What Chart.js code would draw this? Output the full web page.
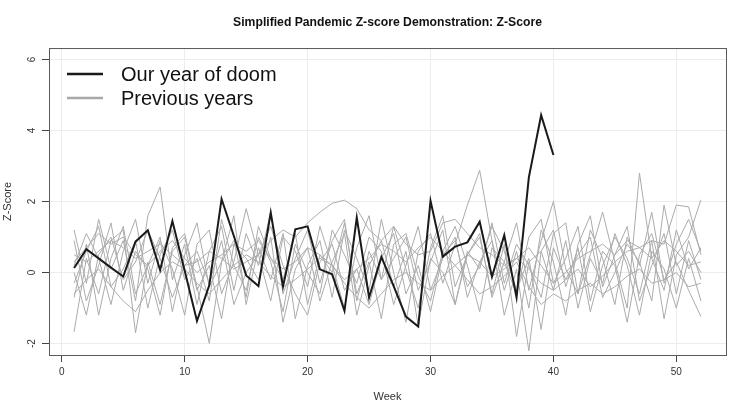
<!DOCTYPE html>
<html>
<head>
<meta charset="utf-8">
<script src="https://cdn.jsdelivr.net/npm/chart.js@4/dist/chart.umd.min.js"></script>
<style>
  html, body { margin: 0; padding: 0; background: #fff; }
  canvas { display: block; }
</style>
</head>
<body>
<canvas id="chart" width="750" height="417"></canvas>
<script>
const FONT = "'Liberation Sans', Arial, Helvetica, sans-serif";

const weeks = Array.from({ length: 52 }, (_, i) => i + 1);
const xTicks = [0, 10, 20, 30, 40, 50];
const yTicks = [-2, 0, 2, 4, 6];

// this year, weeks 1..40
const doomYear = [
  0.13, 0.66, 0.40, 0.14, -0.11, 0.87, 1.19, 0.07, 1.45, 0.05,
  -1.36, -0.36, 2.07, 1.03, -0.08, -0.38, 1.69, -0.39, 1.22, 1.30,
  0.09, -0.05, -1.08, 1.55, -0.70, 0.44, -0.38, -1.24, -1.52, 2.02,
  0.45, 0.73, 0.85, 1.43, -0.12, 1.05, -0.70, 2.68, 4.43, 3.31
];

// previous years, weeks 1..52 (rough)
const prev1 = [1.2, -0.3, 1.5, 0.1, 0.9, -0.8, 1.6, 2.41, -0.2, 0.8, -0.9, 0.6, 1.3, -0.5, 1.1, 0.2, 1.7, -0.6, 0.4, 1.2, -0.3, 0.9, 1.5, -0.8, 0.6, -0.2, 1.3, 0.1, -1.0, 0.7, 1.6, -0.4, 0.5, 1.1, -0.7, 0.3, 1.4, -0.5, 0.9, 2.0, 0.1, -0.6, 1.2, 0.4, -0.9, 1.0, 0.2, 1.7, -0.3, 0.8, 1.5, 0.6];
const prev2 = [0.5, 0.3, 0.6, 0.9, 0.7, 0.4, 0.6, 0.8, 0.5, 0.2, 0.3, 0.6, 0.4, 0.1, 0.3, 0.5, 0.9, 1.2, 1.0, 1.4, 1.7, 1.95, 2.04, 1.8, 1.2, 0.9, 1.3, 0.8, 0.5, 0.6, 1.4, 1.5, 1.1, 0.7, 0.5, 0.2, 0.4, 0.1, -0.3, -0.5, -0.2, 0.1, -0.4, -0.1, 0.3, 0.6, 0.7, 0.9, 0.8, 1.9, 1.85, 0.5];
const prev3 = [-0.7, 0.8, -1.2, 0.4, 1.3, -0.6, 0.2, 1.0, -1.1, 0.5, 1.4, -0.4, 0.3, 1.6, -0.9, 0.7, -0.2, 1.1, -1.3, 0.2, 0.9, -0.7, 1.2, 0.4, -0.5, 1.5, 0.0, -1.4, 0.6, 1.1, -0.3, 0.8, 1.9, 2.88, 0.9, -0.5, 0.6, -1.0, 1.2, 0.3, -1.2, 0.8, 1.6, -0.4, 0.5, 1.3, -0.8, 0.2, 1.1, -0.6, 0.9, -0.2];
const prev4 = [0.2, 1.1, 0.4, -0.9, 0.6, 1.5, -0.3, 0.9, 0.1, -1.2, 0.8, 1.2, -0.6, 0.3, 1.8, 0.5, -0.8, 1.0, 0.6, -0.4, 1.3, 0.2, -1.0, 0.7, 1.6, -0.2, 0.4, 1.0, -0.5, 0.3, 1.2, -0.9, 0.6, 0.1, 1.4, -0.3, 0.8, 0.2, -0.7, 1.1, 1.4, -0.6, 0.5, 1.7, 0.3, -1.0, 2.8, 0.4, -0.5, 1.2, 0.1, 0.7];
const prev5 = [-0.3, 0.6, 1.3, -0.4, 0.1, 0.9, -1.0, 0.5, 1.2, -0.2, 0.4, -0.8, 1.5, 0.2, -0.5, 1.0, 0.3, -1.1, 0.8, 0.0, -0.6, 1.2, 0.5, -0.3, 1.0, 0.6, -0.9, 0.2, 1.3, -0.5, 0.4, 1.0, -0.7, 0.3, 0.9, -1.2, 0.1, -2.2, 0.6, 1.2, -0.4, 0.7, -1.1, 0.2, 1.0, 0.4, -0.6, 0.9, -1.3, 0.5, 1.0, 2.05];
const prev6 = [0.9, -0.8, 0.2, 1.4, -0.5, 0.6, 0.1, -1.2, 0.7, 1.1, -0.4, -1.99, 0.3, 0.9, -0.7, 1.3, 0.4, -0.2, 1.1, -0.9, 0.5, 0.0, 1.4, -0.6, 0.3, -1.3, 0.8, 1.1, -0.1, -0.8, 0.6, 1.3, 0.2, -1.1, 0.7, 0.3, -0.6, 1.0, 1.5, -0.3, 0.4, 1.3, -0.8, 0.6, 0.2, -1.4, 0.5, 1.1, -0.2, 0.3, -0.5, -1.24];
const prev7 = [-1.67, 0.4, -0.6, 0.9, 1.2, -1.7, 0.3, -0.9, 0.6, 1.0, -0.5, 0.2, -1.3, 0.8, 0.4, -0.2, 1.0, -1.4, 0.1, 0.7, -0.8, 0.3, 1.1, -1.2, 0.2, 0.9, -0.4, 0.6, -1.5, 0.4, 0.0, -0.9, 0.5, 1.0, -0.6, 0.8, -1.8, 0.3, 0.6, -0.5, 0.9, -1.0, 0.4, -0.3, 1.1, 0.2, -1.2, 0.6, 0.1, -1.0, 0.4, -0.8];
const prev8 = [-0.6, -0.2, 0.1, -0.4, -0.8, -1.1, -0.5, 0.0, 0.3, 0.1, -0.3, -0.6, -0.2, 0.2, 0.5, 0.3, -0.1, -0.4, -0.2, 0.1, 0.4, 0.2, -0.3, -0.7, -1.0, -0.6, -0.2, 0.0, -0.3, -0.5, -0.1, 0.2, -0.2, -0.6, -0.4, -0.1, 0.3, -0.4, -0.9, -0.6, -0.8, -0.5, -0.3, -0.6, -0.4, -0.1, 0.1, -0.3, -0.2, 0.0, -0.4, -0.3];
const prev9 = [0.3, 0.7, 1.1, 0.8, 1.0, 0.5, 0.2, 0.6, 0.9, 0.4, 0.0, 0.3, 0.5, 0.8, 0.6, 0.9, 0.4, 0.1, 0.3, 0.7, 0.5, 0.2, -0.2, 0.1, 0.4, 0.8, 0.6, 0.3, 0.7, 1.0, 0.6, 0.2, 0.5, 0.3, -0.1, 0.1, 0.4, 0.7, 0.2, -0.3, 0.0, 0.4, 0.6, 0.8, 0.5, 0.9, 0.7, 0.4, 0.9, 0.6, 0.2, 0.3];
const prev10 = [0.0, -1.2, 0.5, 1.0, -0.2, 0.3, 1.2, 0.4, -0.7, 0.2, 0.6, -0.3, 0.9, -0.9, 0.0, 0.5, 1.3, 0.2, -0.6, -1.2, 0.3, 0.8, -0.5, 0.1, -0.9, 0.4, 1.1, -0.6, 0.2, -1.1, 0.5, 0.9, -0.4, 0.2, 1.3, 0.6, -0.5, 0.4, -1.6, 0.7, -0.2, 0.5, 1.0, -0.7, 0.0, 0.8, 0.3, -0.8, 1.9, 0.2, 0.6, 0.0];

const previousYears = [prev1, prev2, prev3, prev4, prev5, prev6, prev7, prev8, prev9, prev10];

const DOOM_COLOR = "#1a1a1a";
const PREV_COLOR = "#ababab";

const toPoints = (vals) => vals.map((v, i) => ({ x: weeks[i], y: v }));

const datasets = [
  {
    label: "Our year of doom",
    data: toPoints(doomYear),
    borderColor: DOOM_COLOR,
    borderWidth: 2,
    order: 0,
  },
  ...previousYears.map((vals) => ({
    label: "Previous years",
    data: toPoints(vals),
    borderColor: PREV_COLOR,
    borderWidth: 1,
    order: 1,
  })),
];

// R-style box around the plot region
const boxPlugin = {
  id: "box",
  afterDatasetsDraw(chart) {
    const { ctx, chartArea: a } = chart;
    ctx.save();
    ctx.strokeStyle = "#5a5a5a";
    ctx.lineWidth = 1;
    ctx.strokeRect(a.left + 0.5, a.top + 0.5, a.right - a.left, a.bottom - a.top);
    ctx.restore();
  },
};

// legend drawn inside the top-left corner, like legend("topleft") in R
const legendPlugin = {
  id: "rLegend",
  afterDraw(chart) {
    const { ctx } = chart;
    const items = [
      { text: "Our year of doom", color: DOOM_COLOR, width: 2.5, y: 74 },
      { text: "Previous years", color: "#a8a8a8", width: 2.5, y: 98 },
    ];
    ctx.save();
    ctx.font = "20px " + FONT;
    ctx.textBaseline = "middle";
    ctx.fillStyle = "#111";
    items.forEach((it) => {
      ctx.strokeStyle = it.color;
      ctx.lineWidth = it.width;
      ctx.beginPath();
      ctx.moveTo(67, it.y);
      ctx.lineTo(103, it.y);
      ctx.stroke();
      ctx.fillText(it.text, 121, it.y + 1);
    });
    ctx.restore();
  },
};

new Chart(document.getElementById("chart"), {
  type: "line",
  data: { datasets },
  options: {
    responsive: false,
    animation: false,
    layout: { padding: { left: 0, right: 24, top: 0, bottom: 0 } },
    elements: {
      line: { tension: 0, fill: false },
      point: { radius: 0, hoverRadius: 0 },
    },
    plugins: {
      legend: { display: false },
      tooltip: { enabled: false },
      title: {
        display: true,
        fullSize: false,
        text: "Simplified Pandemic Z-score Demonstration: Z-Score",
        color: "#111",
        font: { family: FONT, size: 12.2, weight: "bold" },
        padding: { top: 15, bottom: 18.4 },
      },
    },
    scales: {
      x: {
        type: "linear",
        min: -1.04,
        max: 54.04,
        afterBuildTicks: (s) => { s.ticks = xTicks.map((v) => ({ value: v })); },
        afterFit: (s) => { s.height = 62; },
        border: { display: false },
        grid: { color: "#ececec", lineWidth: 1, drawTicks: true, tickLength: 7, tickColor: "#444" },
        ticks: { color: "#333", padding: 4, font: { family: FONT, size: 10 } },
        title: {
          display: true,
          text: "Week",
          color: "#333",
          font: { family: FONT, size: 11 },
          padding: { top: 0, bottom: 13 },
        },
      },
      y: {
        type: "linear",
        min: -2.32,
        max: 6.32,
        afterBuildTicks: (s) => { s.ticks = yTicks.map((v) => ({ value: v })); },
        afterFit: (s) => { s.width = 49; },
        border: { display: false },
        grid: { color: "#ececec", lineWidth: 1, drawTicks: true, tickLength: 7, tickColor: "#444" },
        ticks: {
          color: "#333",
          padding: 5,
          minRotation: 90,
          maxRotation: 90,
          crossAlign: "center",
          font: { family: FONT, size: 10 },
        },
        title: {
          display: true,
          text: "Z-Score",
          color: "#333",
          font: { family: FONT, size: 11 },
          padding: { top: 1, bottom: 0 },
        },
      },
    },
  },
  plugins: [boxPlugin, legendPlugin],
});
</script>
</body>
</html>
